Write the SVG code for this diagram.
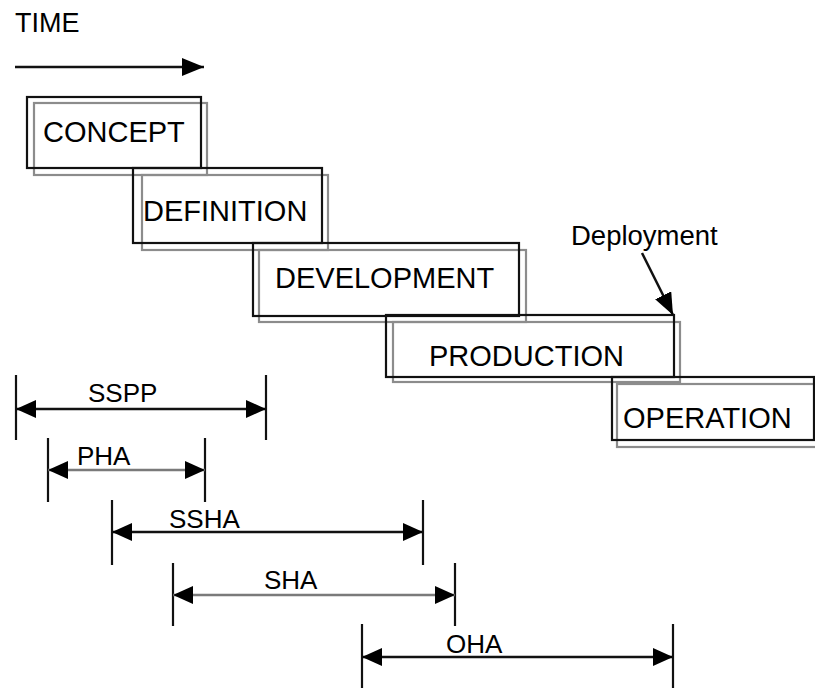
<svg xmlns="http://www.w3.org/2000/svg" width="815" height="688" viewBox="0 0 815 688">
  <style>
    text { font-family: "Liberation Sans", Arial, sans-serif; fill: #000; }
    .phase { font-size: 29px; }
    .lbl { font-size: 26px; }
    .outer { fill: none; stroke: #111; stroke-width: 2.2; }
    .shadow { fill: none; stroke: #8c8c8c; stroke-width: 2.2; }
    .tick { stroke: #111; stroke-width: 2.2; }
    .span { stroke: #111; stroke-width: 2.5; marker-start: url(#head); marker-end: url(#head); }
    .span.light { stroke: #7a7a7a; }
  </style>
  <defs>
    <marker id="head" viewBox="0 0 20 18" refX="20" refY="9" markerWidth="20" markerHeight="18" markerUnits="userSpaceOnUse" orient="auto-start-reverse">
      <path d="M0,0 L20,9 L0,18 z" fill="#000"/>
    </marker>
    <marker id="tip" viewBox="0 0 22 18" refX="22" refY="9" markerWidth="22" markerHeight="18" markerUnits="userSpaceOnUse" orient="auto">
      <path d="M0,0 L22,9 L0,18 z" fill="#000"/>
    </marker>
  </defs>

  <!-- time axis -->
  <g id="time">
    <text class="lbl" x="15" y="32" style="font-size:27px">TIME</text>
    <line x1="15" y1="67" x2="204" y2="67" stroke="#111" stroke-width="2.5" marker-end="url(#tip)"/>
  </g>

  <!-- phase boxes -->
  <g id="concept">
    <rect class="shadow" x="34" y="103" width="173" height="72"/>
    <rect class="outer" x="27" y="97" width="174" height="71"/>
    <text class="phase" x="43" y="142">CONCEPT</text>
  </g>
  <g id="definition">
    <rect class="shadow" x="142" y="175" width="186" height="75"/>
    <rect class="outer" x="133" y="168" width="189" height="75"/>
    <text class="phase" x="143" y="221">DEFINITION</text>
  </g>
  <g id="development">
    <rect class="shadow" x="259" y="250" width="267" height="72"/>
    <rect class="outer" x="253" y="243" width="266" height="73"/>
    <text class="phase" x="275" y="288">DEVELOPMENT</text>
  </g>
  <g id="production">
    <rect class="shadow" x="393" y="322" width="287" height="60"/>
    <rect class="outer" x="386" y="315" width="288" height="62"/>
    <text class="phase" x="429" y="366">PRODUCTION</text>
  </g>
  <g id="operation">
    <rect class="shadow" x="617" y="384" width="200" height="63"/>
    <rect class="outer" x="612" y="377" width="202" height="63"/>
    <text class="phase" x="623" y="428">OPERATION</text>
  </g>

  <!-- milestone -->
  <g id="deployment">
    <text class="lbl" x="571" y="245" style="font-size:27.5px">Deployment</text>
  </g>

  <!-- connectors: milestone pointer and analysis spans -->
  <g id="connectors">
    <line x1="642" y1="253" x2="673" y2="315" stroke="#111" stroke-width="2.5" marker-end="url(#tip)"/>

    <line class="tick" x1="16" y1="375" x2="16" y2="440"/>
    <line class="tick" x1="266" y1="375" x2="266" y2="440"/>
    <line class="span" x1="16" y1="409" x2="266" y2="409"/>

    <line class="tick" x1="48" y1="438" x2="48" y2="502"/>
    <line class="tick" x1="205" y1="438" x2="205" y2="502"/>
    <line class="span light" x1="48" y1="470" x2="205" y2="470"/>

    <line class="tick" x1="112" y1="500" x2="112" y2="565"/>
    <line class="tick" x1="423" y1="500" x2="423" y2="565"/>
    <line class="span" x1="112" y1="532" x2="423" y2="532"/>

    <line class="tick" x1="173" y1="563" x2="173" y2="626"/>
    <line class="tick" x1="455" y1="563" x2="455" y2="626"/>
    <line class="span light" x1="173" y1="595" x2="455" y2="595"/>

    <line class="tick" x1="362" y1="624" x2="362" y2="688"/>
    <line class="tick" x1="673" y1="624" x2="673" y2="688"/>
    <line class="span" x1="362" y1="657" x2="673" y2="657"/>
  </g>

  <!-- span labels -->
  <g id="labels">
    <text class="lbl" x="88" y="402">SSPP</text>
    <text class="lbl" x="77" y="465">PHA</text>
    <text class="lbl" x="169" y="528">SSHA</text>
    <text class="lbl" x="264" y="589">SHA</text>
    <text class="lbl" x="446" y="653">OHA</text>
  </g>
</svg>
